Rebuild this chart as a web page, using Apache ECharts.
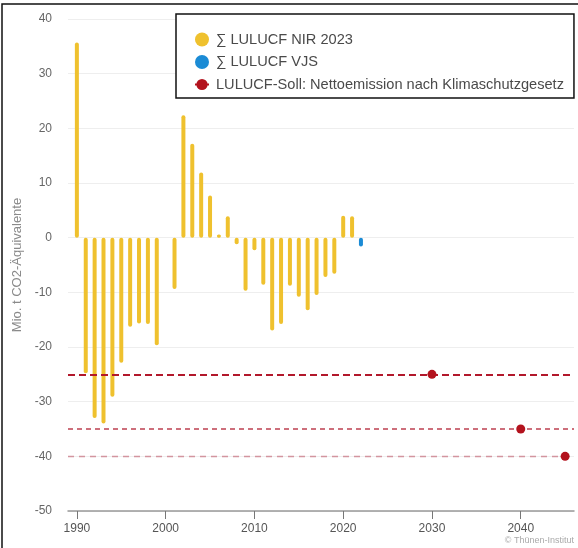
<!DOCTYPE html>
<html>
<head>
<meta charset="utf-8">
<script src="https://cdn.jsdelivr.net/npm/echarts@6/dist/echarts.min.js"></script>
<style>
  html, body { margin: 0; padding: 0; background: #fff; }
  #main { width: 578px; height: 548px; }
</style>
</head>
<body>
<div id="main"></div>
<script>
// Jahre und Werte (Mio. t CO2-Äquivalente)
let years = [1990, 1991, 1992, 1993, 1994, 1995, 1996, 1997, 1998, 1999,
    2000, 2001, 2002, 2003, 2004, 2005, 2006, 2007, 2008, 2009,
    2010, 2011, 2012, 2013, 2014, 2015, 2016, 2017, 2018, 2019,
    2020, 2021]
let nirValues = [35.7, -24.8, -33.0, -34.0, -29.1, -22.9, -16.3, -15.7, -15.8, -19.7,
    0, -9.4, 22.4, 17.2, 11.9, 7.7, 0.6, 3.9, -1.2, -9.7,
    -2.3, -8.6, -17.0, -15.8, -8.8, -10.8, -13.3, -10.5, -7.2, -6.6,
    4.0, 3.9]
let vjsYears = [2022]
let vjsValues = [-1.6]
let sollYears = [2030, 2040, 2045]
let sollValues = [-25, -35, -40]
let tickYears = [1990, 2000, 2010, 2020, 2030, 2040]

let names = ['∑ LULUCF NIR 2023', '∑ LULUCF VJS', 'LULUCF-Soll: Nettoemission nach Klimaschutzgesetz']
let sollColors = ['#b2182b', '#bd4050', '#d3959f']
let sollDash = [[7, 4], [5, 4], [6, 5]]
let sollWidth = [2, 1.6, 1.4]

let font = 'Liberation Sans, Arial, sans-serif'

var myChart = echarts.init(document.getElementById('main'))

var option = {
    animation: false,
    textStyle: { fontFamily: font },
    grid: { left: 68, right: 4, top: 19, bottom: 37 },
    legend: {
        orient: 'vertical',
        left: 176,
        top: 14,
        padding: [18, 10, 6, 18],
        itemWidth: 14,
        itemHeight: 14,
        itemGap: 7.5,
        borderColor: '#111',
        borderWidth: 1.5,
        backgroundColor: '#fff',
        textStyle: { color: '#4a4a4a', fontSize: 14.6, fontFamily: font, padding: [0, 0, 0, 2] },
        data: [
            { name: names[0], icon: 'circle' },
            { name: names[1], icon: 'circle' },
            { name: names[2], lineStyle: { color: '#b3121d', width: 2, opacity: 1 } }
        ]
    },
    xAxis: {
        type: 'value',
        min: 1989,
        max: 2046,
        splitLine: { show: false },
        axisLine: { onZero: false, lineStyle: { color: '#999', width: 1.5 } },
        axisTick: { customValues: tickYears, length: 8, lineStyle: { color: '#777' } },
        axisLabel: {
            customValues: tickYears,
            color: '#555',
            fontSize: 12,
            margin: 12,
            formatter: v => String(v)
        }
    },
    yAxis: {
        type: 'value',
        min: -50,
        max: 40,
        interval: 10,
        name: 'Mio. t CO2-Äquivalente',
        nameLocation: 'middle',
        nameGap: 40,
        nameTextStyle: { color: '#8a8a8a', fontSize: 13 },
        axisLine: { show: false },
        axisTick: { show: false },
        axisLabel: { color: '#666', fontSize: 12, margin: 16 },
        splitLine: { lineStyle: { color: '#eeeeee', width: 1 } }
    },
    graphic: [
        {
            type: 'polyline',
            shape: { points: [[2, 548], [2, 4], [578, 4]] },
            style: { stroke: '#111', lineWidth: 1.5, fill: null },
            silent: true
        },
        {
            type: 'text',
            right: 4,
            bottom: 3,
            style: { text: '© Thünen-Institut', fill: '#aaa', fontSize: 9, fontFamily: font },
            silent: true
        }
    ],
    series: [
        {
            name: names[0],
            type: 'bar',
            barWidth: 4,
            barGap: '-100%',
            itemStyle: { color: '#efc12e', borderRadius: 2 },
            data: years.map((y, i) => [y, nirValues[i]])
        },
        {
            name: names[1],
            type: 'bar',
            barWidth: 4,
            barGap: '-100%',
            itemStyle: { color: '#1b8bd5', borderRadius: 2 },
            data: vjsYears.map((y, i) => [y, vjsValues[i]])
        },
        {
            name: names[2],
            type: 'line',
            symbol: 'circle',
            symbolSize: 9,
            itemStyle: { color: '#b3121d' },
            lineStyle: { opacity: 0 },
            z: 5,
            data: sollYears.map((y, i) => [y, sollValues[i]]),
            markLine: {
                silent: true,
                symbol: 'none',
                label: { show: false },
                data: sollValues.map((v, i) => ({
                    yAxis: v,
                    lineStyle: { color: sollColors[i], type: sollDash[i], width: sollWidth[i] }
                }))
            }
        }
    ]
}

myChart.setOption(option)
</script>
</body>
</html>
